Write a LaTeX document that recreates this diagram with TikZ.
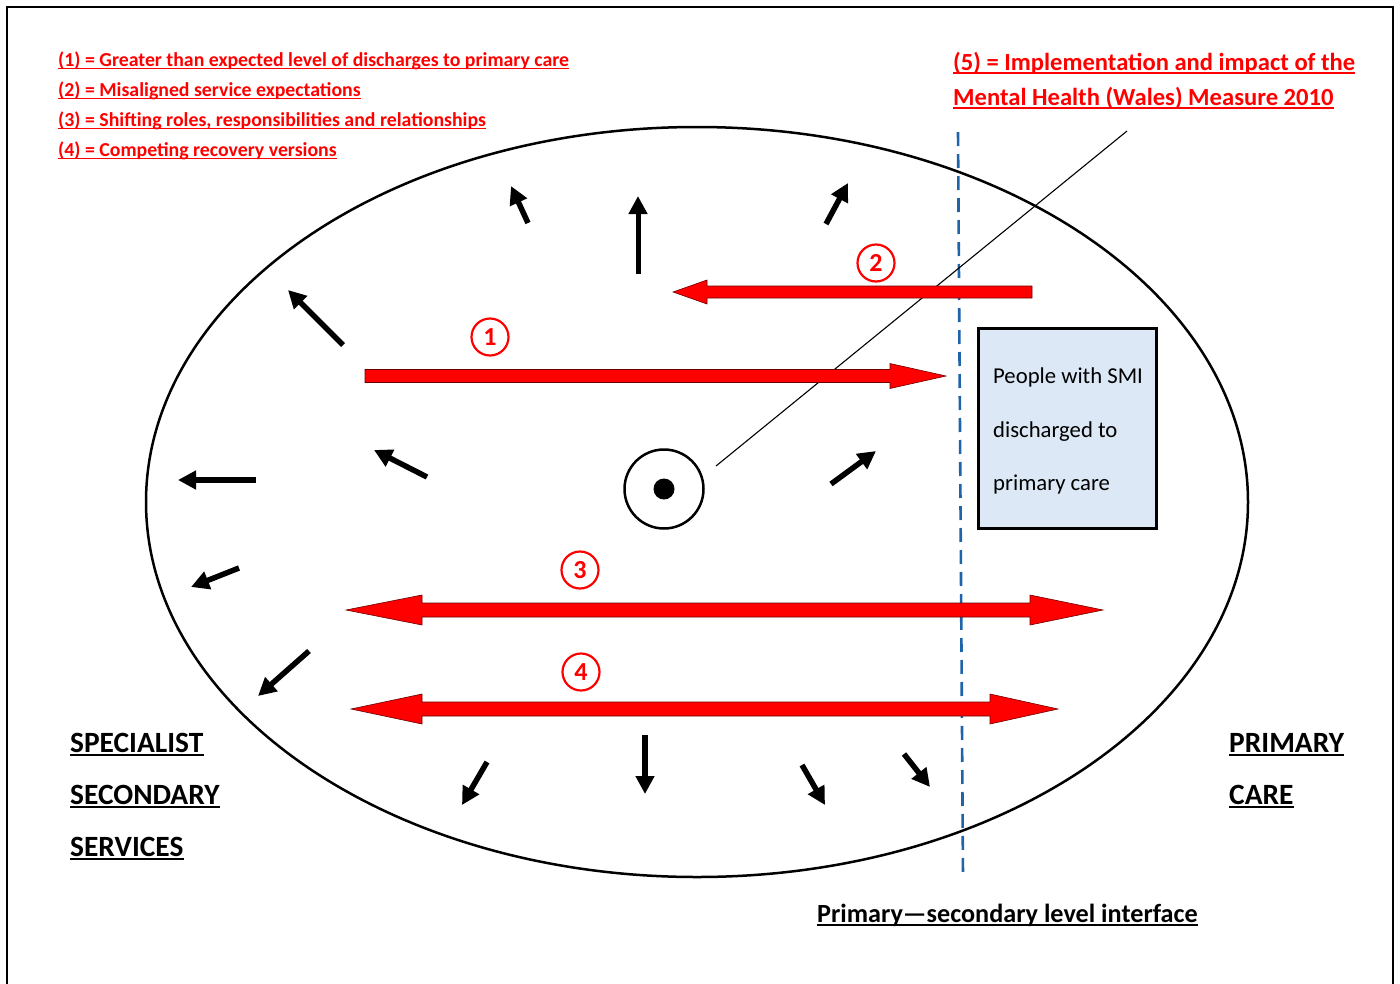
\documentclass[tikz,border=0pt]{standalone}
\usepackage{fontspec}
\setmainfont{Carlito}
\usetikzlibrary{arrows.meta,calc}
\definecolor{interfaceblue}{RGB}{31,99,168}
\definecolor{boxfill}{RGB}{220,232,245}
\definecolor{arrowedge}{RGB}{110,0,0}

% horizontal single red arrow: tail x, head-base x, tip x, y, shaft half, head half
\newcommand{\redsingle}[6]{%
  \filldraw[redarrow] (#1,#4-#5) -- (#2,#4-#5) -- (#2,#4-#6) -- (#3,#4)
    -- (#2,#4+#6) -- (#2,#4+#5) -- (#1,#4+#5) -- cycle;}
% horizontal double red arrow: left tip, left base, right base, right tip, y, shaft half, head half
\newcommand{\reddouble}[7]{%
  \filldraw[redarrow] (#1,#5) -- (#2,#5-#7) -- (#2,#5-#6) -- (#3,#5-#6) -- (#3,#5-#7)
    -- (#4,#5) -- (#3,#5+#7) -- (#3,#5+#6) -- (#2,#5+#6) -- (#2,#5+#7) -- cycle;}
% text node with an underline: name, position, style, text, underline style
\newcommand{\ulnode}[5]{%
  \node[#3] (#1) at (#2) {#4};
  \draw[#5] ([yshift=-2.6pt]#1.base west) -- ([yshift=-2.6pt]#1.base east);}

\begin{document}
\begin{tikzpicture}[x=1pt,y=-1pt,
  lbl/.style={inner sep=0pt, anchor=base west},
  legend/.style={lbl, text=red, font=\fontsize{19.8}{22}\selectfont\bfseries},
  measure/.style={lbl, text=red, font=\fontsize{24.6}{28}\selectfont\bfseries},
  sector/.style={lbl, font=\fontsize{29.4}{32}\selectfont\bfseries},
  iface/.style={lbl, font=\fontsize{26.2}{30}\selectfont\bfseries},
  boxtext/.style={lbl, font=\fontsize{22.7}{26}\selectfont},
  redul/.style={red, line width=1.4pt},
  redulbig/.style={red, line width=1.8pt},
  blackul/.style={black, line width=2.2pt},
  redarrow/.style={fill=red, draw=arrowedge, line width=0.6pt},
  numcirc/.style={circle, draw=red, line width=2.2pt, minimum size=37pt, inner sep=0pt,
    text=red, font=\fontsize{26}{26}\selectfont\bfseries},
  radial/.style={line width=5.5pt, -{Triangle[length=18pt,width=18pt]}},
]
\useasboundingbox (0,0) rectangle (1400,983);

% page frame (open at the foot)
\draw[line width=2pt] (7,990) -- (7,7) -- (1393,7) -- (1393,990);

% legend
\ulnode{l1}{58,66}{legend}{(1) = Greater than expected level of discharges to primary care}{redul}
\ulnode{l2}{58,96}{legend}{(2) = Misaligned service expectations}{redul}
\ulnode{l3}{58,126}{legend}{(3) = Shifting roles, responsibilities and relationships}{redul}
\ulnode{l4}{58,156}{legend}{(4) = Competing recovery versions}{redul}
\ulnode{l5a}{953,70}{measure}{(5) = Implementation and impact of the}{redulbig}
\ulnode{l5b}{953,105}{measure}{Mental Health (Wales) Measure 2010}{redulbig}

% service system
\draw[line width=2.5pt] (697,502) ellipse [x radius=551, y radius=375];

% primary--secondary interface
\coordinate (ifaceTop) at (958,132);
\coordinate (ifaceBot) at (963,877);
\draw[interfaceblue, line width=2.6pt, dash pattern=on 14pt off 8pt] (ifaceTop) -- (ifaceBot);

% measure pointer
\coordinate (ptrStart) at (716,466);
\coordinate (ptrEnd) at (1127,131);
\draw[line width=1.1pt] (ptrStart) -- (ptrEnd);

% centre
\node[circle, draw, line width=2.5pt, minimum size=79pt, inner sep=0pt] (target) at (664,489) {};
\fill (target.center) circle (10.5);

% discharged people
\node[draw, line width=3pt, fill=boxfill, minimum width=178pt, minimum height=200pt,
  inner sep=0pt] (smi) at (1067,428.5) {};
\node[boxtext] (smi1) at (993,383) {People with SMI};
\node[boxtext] (smi2) at (993,437) {discharged to};
\node[boxtext] (smi3) at (993,490) {primary care};

% themes
\redsingle{365}{890}{946}{376}{6.5}{12.5}
\redsingle{1032}{707}{673}{292}{6}{12}
\reddouble{346}{422}{1030}{1103}{610}{7}{15}
\reddouble{351}{422}{990}{1058}{709}{7}{15}
\node[numcirc] (n1) at (490,337) {1};
\node[numcirc] (n2) at (876,263) {2};
\node[numcirc] (n3) at (580,570) {3};
\node[numcirc] (n4) at (581,672) {4};

% outward pressure
\draw[radial] (528,223) -- (511,186);
\draw[radial, line width=5pt] (638,274) -- (638,196);
\draw[radial] (826,224) -- (848,183);
\draw[radial] (343,345) -- (288,290);
\draw[radial] (427,477) -- (374,450);
\draw[radial] (256,480) -- (178,480);
\draw[radial] (239,568) -- (191,587);
\draw[radial] (309,651) -- (258,696);
\draw[radial] (487,762) -- (462,805);
\draw[radial] (645,735) -- (645,794);
\draw[radial] (802,765) -- (825,805);
\draw[radial] (904,754) -- (930,787);
\draw[radial] (831,484) -- (876,451);

% sector labels
\ulnode{s1}{70,752}{sector}{SPECIALIST}{blackul}
\ulnode{s2}{70,804}{sector}{SECONDARY}{blackul}
\ulnode{s3}{70,856}{sector}{SERVICES}{blackul}
\ulnode{p1}{1229,752}{sector}{PRIMARY}{blackul}
\ulnode{p2}{1229,804}{sector}{CARE}{blackul}
\ulnode{il}{817,922}{iface}{Primary—secondary level interface}{blackul}
\end{tikzpicture}
\end{document}
